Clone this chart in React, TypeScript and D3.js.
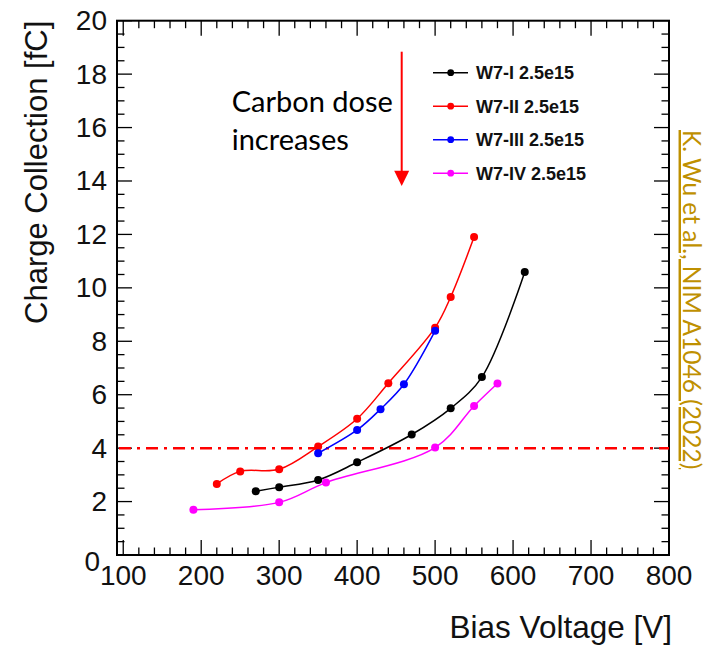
import React from 'react';
import * as d3 from 'd3';

const seriesNames = ['W7-I 2.5e15', 'W7-II 2.5e15', 'W7-III 2.5e15', 'W7-IV 2.5e15'];
const seriesColors = ['#000000', '#ff0000', '#0000ff', '#ff00ff'];

const w7iVoltage = [270, 300, 350, 400, 470, 520, 560, 615];
const w7iCharge = [2.39, 2.54, 2.81, 3.47, 4.51, 5.49, 6.66, 10.59];
const w7iiVoltage = [220, 250, 300, 350, 400, 440, 500, 520, 550];
const w7iiCharge = [2.66, 3.13, 3.21, 4.06, 5.1, 6.43, 8.51, 9.66, 11.9];
const w7iiiVoltage = [350, 400, 430, 460, 500];
const w7iiiCharge = [3.81, 4.68, 5.46, 6.39, 8.39];
const w7ivVoltage = [190, 300, 360, 500, 550, 580];
const w7ivCharge = [1.69, 1.97, 2.71, 4.02, 5.58, 6.42];

const xTickLabels = [100, 200, 300, 400, 500, 600, 700, 800];
const yTickLabels = [0, 2, 4, 6, 8, 10, 12, 14, 16, 18, 20];
const thresholdCharge = 4;

const xTitle = 'Bias Voltage [V]';
const yTitle = 'Charge Collection [fC]';
const annotationLines = ['Carbon dose', 'increases'];
const citation = 'K. Wu et al., NIM A1046 (2022)';

const W = 708;
const H = 646;
const left = 117;
const right = 669;
const top = 20.7;
const bottom = 555;

export default function App() {
  const x = d3.scaleLinear().domain([92, 800]).range([left, right]);
  const y = d3.scaleLinear().domain([0, 20]).range([bottom, top]);

  const series = [
    { v: w7iVoltage, q: w7iCharge },
    { v: w7iiVoltage, q: w7iiCharge },
    { v: w7iiiVoltage, q: w7iiiCharge },
    { v: w7ivVoltage, q: w7ivCharge },
  ];

  const line = d3
    .line<[number, number]>()
    .x((d) => x(d[0]))
    .y((d) => y(d[1]))
    .curve(d3.curveCatmullRom.alpha(0.5));

  const xMinor = d3.range(100, 801, 20);
  const yMinor = d3.range(0, 20.01, 0.5);
  const majLen = 15;
  const minLen = 7.5;
  const axisFont = 'Liberation Sans, Arial, sans-serif';

  const legendY0 = 72.7;
  const legendDy = 33.5;

  return (
    <svg width={W} height={H} style={{ position: 'absolute', left: 0, top: 0, background: '#fff' }}>
      <rect x={0} y={0} width={W} height={H} fill="#fff" />
      {/* ticks */}
      <g stroke="#000" strokeWidth={1.3}>
        {xMinor.map((v) => {
          const major = v % 100 === 0;
          const len = major ? majLen : minLen;
          return (
            <g key={'xt' + v}>
              <line x1={x(v)} x2={x(v)} y1={bottom} y2={bottom - len} />
              <line x1={x(v)} x2={x(v)} y1={top} y2={top + len} />
            </g>
          );
        })}
        {yMinor.map((v) => {
          const major = Math.abs(v % 2) < 1e-6;
          const len = major ? majLen : minLen;
          return (
            <g key={'yt' + v}>
              <line x1={left} x2={left + len} y1={y(v)} y2={y(v)} />
              <line x1={right} x2={right - len} y1={y(v)} y2={y(v)} />
            </g>
          );
        })}
      </g>
      <rect x={left} y={top} width={right - left} height={bottom - top} fill="none" stroke="#000" strokeWidth={2} />

      {/* tick labels */}
      <g fontFamily={axisFont} fontSize={28} fill="#111">
        {xTickLabels.map((v) => (
          <text key={'xl' + v} x={x(v)} y={585} textAnchor="middle">
            {v}
          </text>
        ))}
        {yTickLabels.map((v) => (
          <text
            key={'yl' + v}
            x={v === 0 ? 100 : 107}
            y={y(v) + (v === 0 ? 16 : 9.5)}
            textAnchor="end"
          >
            {v}
          </text>
        ))}
      </g>

      {/* axis titles */}
      <text x={672} y={638} textAnchor="end" fontFamily={axisFont} fontSize={31.5} fill="#111">
        {xTitle}
      </text>
      <text
        transform={`translate(47,${top}) rotate(-90)`}
        textAnchor="end"
        fontFamily={axisFont}
        fontSize={31}
        fill="#111"
      >
        {yTitle}
      </text>

      {/* threshold */}
      <line
        x1={left + 2}
        x2={right}
        y1={y(thresholdCharge)}
        y2={y(thresholdCharge)}
        stroke="#ff0000"
        strokeWidth={2.5}
        strokeDasharray="12 6 3 6"
      />

      {/* series */}
      {series.map((s, i) => {
        const pts: [number, number][] = s.v.map((v, j) => [v, s.q[j]]);
        return (
          <g key={'s' + i}>
            <path d={line(pts) || ''} fill="none" stroke={seriesColors[i]} strokeWidth={1.5} />
            {pts.map((p, j) => (
              <circle key={j} cx={x(p[0])} cy={y(p[1])} r={4} fill={seriesColors[i]} />
            ))}
          </g>
        );
      })}

      {/* legend */}
      {seriesNames.map((n, i) => {
        const ly = legendY0 + i * legendDy;
        return (
          <g key={'lg' + i}>
            <line x1={433} x2={468} y1={ly} y2={ly} stroke={seriesColors[i]} strokeWidth={1.5} />
            <circle cx={450.7} cy={ly} r={3.4} fill={seriesColors[i]} />
            <text x={476} y={ly + 6.5} fontFamily={axisFont} fontWeight="bold" fontSize={18} fill="#111">
              {n}
            </text>
          </g>
        );
      })}

      {/* annotation */}
      <g fontFamily="Lato, sans-serif" fontSize={29} fill="#000">
        {annotationLines.map((t, i) => (
          <text key={'an' + i} x={231.7} y={111.7 + i * 38.3}>
            {t}
          </text>
        ))}
      </g>
      <line x1={401.7} x2={401.7} y1={51.7} y2={174} stroke="#ff0000" strokeWidth={2} />
      <path d="M394.2,170.7 L409.2,170.7 L401.7,186 Z" fill="#ff0000" />

      {/* citation */}
      <text
        transform="translate(683,130) rotate(90)"
        fontFamily="Lato, sans-serif"
        fontSize={24.5}
        fill="#BF9000"
        textDecoration="underline"
      >
        {citation}
      </text>
    </svg>
  );
}
